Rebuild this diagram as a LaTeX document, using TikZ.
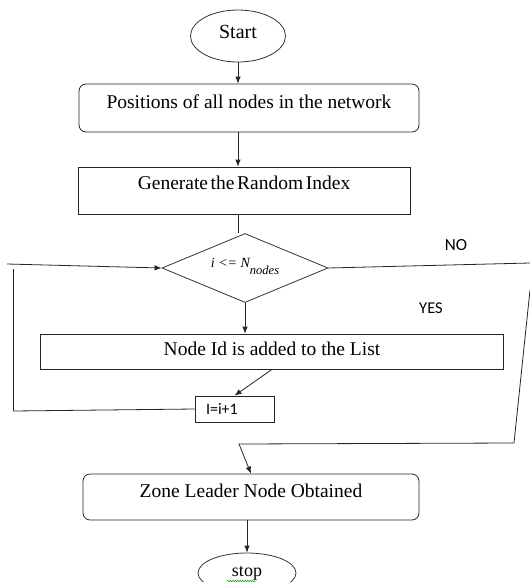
\documentclass[tikz,border=0pt]{standalone}
\usepackage{fontspec}
\setmainfont{Liberation Serif}
\newfontfamily\labelfont{Carlito}
\usepackage{tikz}
\usetikzlibrary{shapes.geometric, positioning, arrows.meta, decorations.pathmorphing}

\tikzset{
    flow/.style={draw=black!85, line width=0.8pt},
    terminal/.style={ellipse, draw=black!80, line width=0.8pt, inner sep=0pt},
    process/.style={rectangle, draw=black!85, line width=0.8pt, inner sep=0pt, font=\fontsize{19.5}{22}\selectfont},
    roundproc/.style={process, rounded corners=7pt},
    decision/.style={diamond, aspect=2.4, draw=black!80, line width=0.8pt, inner sep=0pt},
    sidelabel/.style={font=\labelfont\fontsize{17}{19}\selectfont, inner sep=0pt},
}

\begin{document}
\begin{tikzpicture}[x=1pt, y=-1pt, >={Latex[length=7pt,width=5.5pt]}]
    \clip (0,0) rectangle (530,582);

    \node[terminal, minimum width=95pt, minimum height=52pt, text depth=9pt,
          font=\fontsize{20}{22}\selectfont] (start) at (238,36) {Start};

    \node[roundproc, minimum width=340pt, text height=24pt, text depth=24pt] (pos) at (249,108)
        {Positions of all nodes in the network};
    \node[process, minimum width=332pt, text height=22pt, text depth=25pt] (gen) at (244,190.5)
        {\spaceskip=2.6pt plus 1pt Generate the Random Index};

    \node[decision, minimum width=166pt, minimum height=69pt, text height=10pt, text depth=12pt] (cond) at (245,268)
        {\fontsize{14}{16}\selectfont\itshape i <= N\raisebox{-7pt}{\fontsize{12.5}{13}\selectfont nodes}};

    \node[process, minimum width=463.5pt, text height=21pt, text depth=14pt] (addid) at (272,351.5)
        {Node Id is added to the List};
    \node[process, minimum width=79pt, minimum height=26pt, inner xsep=11pt, text width=57pt, align=left,
          font=\labelfont\fontsize{16}{18}\selectfont] (incr) at (234.5,409) {I=i+1};

    \node[roundproc, minimum width=336pt, text height=23pt, text depth=23pt] (zone) at (251,497)
        {Zone Leader Node Obtained};
    \node[terminal, minimum width=98pt, minimum height=40pt,
          font=\fontsize{18}{20}\selectfont] (stop) at (247,573) {stop};
    % spell-check squiggle under stop
    \draw[green!60!black, line width=0.5pt, decorate,
          decoration={snake, amplitude=0.7pt, segment length=2.5pt}] (227,581) -- (256,581);

    \node[sidelabel] (no) at (456,245) {NO};
    \node[sidelabel, font=\labelfont\fontsize{16.5}{18}\selectfont] (yes) at (431,308) {YES};

    % main line
    \draw[flow, ->] (start.south) -- (start.south |- pos.north);
    \draw[flow, ->] (start.south |- pos.south) -- (start.south |- gen.north);
    \draw[flow] (start.south |- gen.south) -- (start.south |- cond.north);
    \draw[flow, ->] (cond.south) -- (cond.south |- addid.north);
    \draw[flow, ->] (addid.south) -- (incr.north);

    % loop back
    \coordinate (inleft) at (7,264);
    \coordinate (loopcorner) at (13.5,411);
    \coordinate (looptop) at (13.5,269);
    \draw[flow, ->] (inleft) -- (cond.west);
    \draw[flow] (incr.west) -- (loopcorner) -- (looptop);

    % NO branch
    \coordinate (noend) at (530,263);
    \coordinate (noback) at (530,290);
    \coordinate (nocorner) at (514,443);
    \coordinate (nobottom) at (239,444);
    \draw[flow] (cond.east) -- (noend);
    \draw[flow, ->] (noback) -- (nocorner) -- (nobottom) -- (zone.north);

    \draw[flow, ->] (stop.north |- zone.south) -- (stop.north);
\end{tikzpicture}
\end{document}
